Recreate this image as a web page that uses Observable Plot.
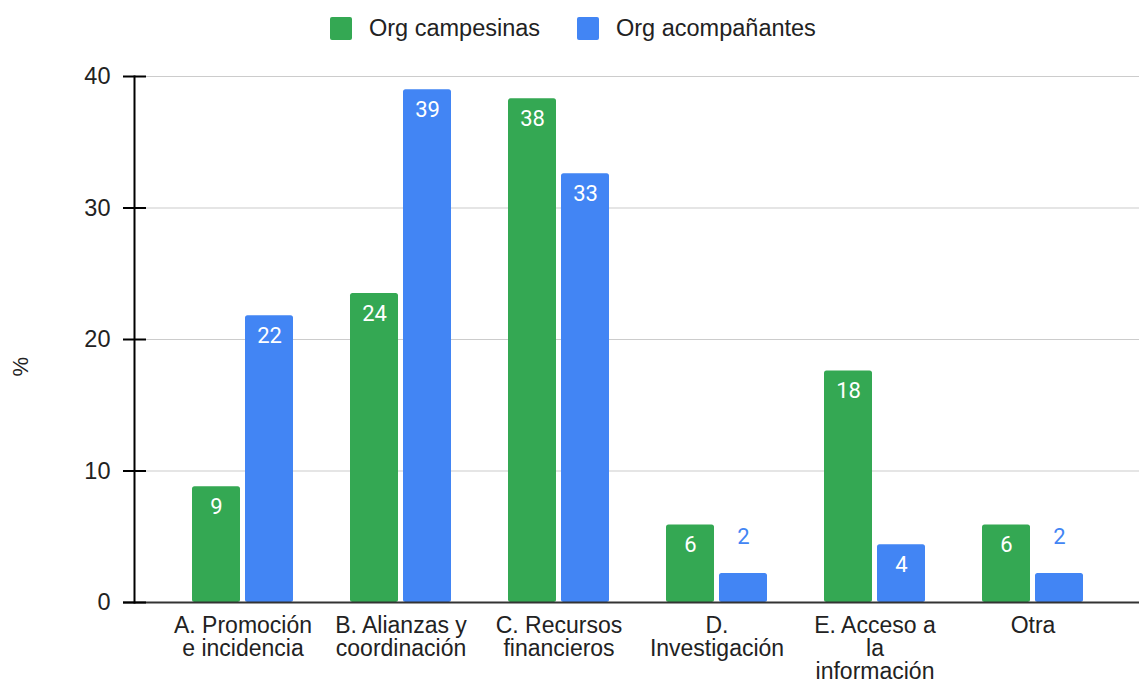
<!DOCTYPE html>
<html>
<head>
<meta charset="utf-8">
<script src="https://cdn.jsdelivr.net/npm/d3@7"></script>
<script src="https://cdn.jsdelivr.net/npm/@observablehq/plot@0.6"></script>
<style>
  html, body { margin: 0; padding: 0; background: #fff; overflow: hidden; }
  #legend { height: 55px; position: relative; font-family: "Liberation Sans", Arial, sans-serif; font-size: 23.5px; color: #222; }
  .item { position: absolute; top: 15px; display: flex; align-items: center; }
  .sw { width: 22px; height: 23px; border-radius: 2px; margin-right: 17px; }
</style>
</head>
<body>
<div id="legend"></div>
<div id="chart"></div>
<script>
const categories = ["A. Promoción\ne incidencia", "B. Alianzas y\ncoordinación", "C. Recursos\nfinancieros", "D.\nInvestigación", "E. Acceso a\nla\ninformación", "Otra"];
const seriesNames = ["Org campesinas", "Org acompañantes"];
const campesinas = [8.8, 23.5, 38.3, 5.9, 17.6, 5.9];
const acompanantes = [21.8, 39.0, 32.6, 2.2, 4.4, 2.2];
const yTicks = [0, 10, 20, 30, 40];
const colors = ["#34a853", "#4285f4"];

// legend
const legend = document.getElementById("legend");
const legendLeft = [330, 577];
seriesNames.forEach((name, i) => {
  const it = document.createElement("div");
  it.className = "item";
  it.style.left = legendLeft[i] + "px";
  it.innerHTML = `<div class="sw" style="background:${colors[i]}"></div><span>${name}</span>`;
  legend.appendChild(it);
});

const campRows = categories.map((c, i) => ({cat: c, value: campesinas[i]}));
const acompRows = categories.map((c, i) => ({cat: c, value: acompanantes[i]}));
const fmt = d => String(Math.round(d.value));
const inside = d => d.value >= 3;

const W = 1139, H = 628;
const chart = Plot.plot({
  width: W,
  height: H,
  marginLeft: 134,
  marginRight: 0,
  marginTop: 21,
  marginBottom: 81,
  style: {fontFamily: "'Liberation Sans', Arial, sans-serif", fontSize: "23px", color: "#222", background: "#fff"},
  x: {domain: categories, range: [163, 1112], paddingInner: 0.362, paddingOuter: 0.181, axis: null},
  y: {domain: [0, 40], axis: null},
  marks: [
    Plot.ruleY(yTicks.filter(t => t > 0), {stroke: "#cccccc", strokeWidth: 1.2, insetLeft: 12}),
    Plot.barY(campRows, {x: "cat", y: "value", fill: colors[0], insetRight: 53, rx: 2.5}),
    Plot.barY(acompRows, {x: "cat", y: "value", fill: colors[1], insetLeft: 53, rx: 2.5}),
    Plot.text(campRows.filter(inside), {x: "cat", y: "value", text: fmt, dx: -26.5, dy: 20, fill: "white", fontSize: 22, fontFamily: "Roboto, sans-serif"}),
    Plot.text(acompRows.filter(inside), {x: "cat", y: "value", text: fmt, dx: 26.5, dy: 20, fill: "white", fontSize: 22, fontFamily: "Roboto, sans-serif"}),
    Plot.text(acompRows.filter(d => !inside(d)), {x: "cat", y: "value", text: fmt, dx: 26.5, dy: -37, fill: colors[1], fontSize: 22, fontFamily: "Roboto, sans-serif"}),
    Plot.ruleY([0], {stroke: "#333", strokeWidth: 2, insetLeft: -11}),
    Plot.axisX({tickSize: 0, tickPadding: 14, fontSize: 23, fill: "#222", lineHeight: 1, label: null}),
    Plot.axisY({ticks: yTicks, tickSize: 11, tickPadding: 13, fontSize: 23.5, fill: "#222", stroke: "#000", strokeWidth: 2, label: null}),
    Plot.tickY(yTicks, {y: d => d, stroke: "#000", strokeWidth: 2, insetRight: W - 146}),
    Plot.frame({anchor: "left", stroke: "#000", strokeWidth: 2}),
    Plot.text(["%"], {frameAnchor: "left", dx: -114, dy: 37, rotate: -90, fontSize: 22, fill: "#222", text: d => d})
  ]
});
document.getElementById("chart").appendChild(chart);
</script>
</body>
</html>
